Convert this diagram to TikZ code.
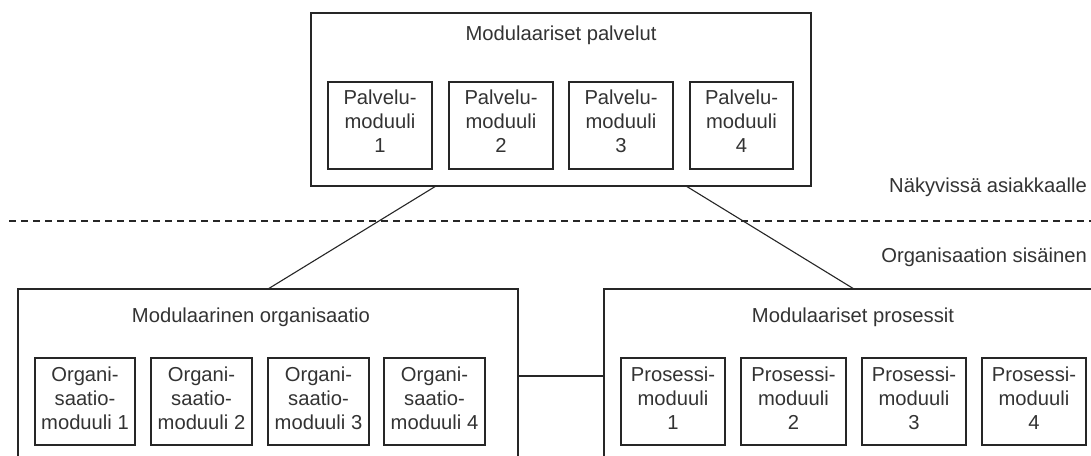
\documentclass[tikz,border=0pt]{standalone}
\usepackage{fontspec}
\setmainfont{Liberation Sans}
\usetikzlibrary{calc}
\begin{document}
\begin{tikzpicture}[x=1pt,y=-1pt,
  frame/.style={draw=black!85, line width=1.2pt, inner sep=0pt, outer sep=0pt, anchor=north west},
  container/.style={frame, minimum width=500pt, minimum height=174pt},
  modbox/.style={frame, minimum height=87pt},
  txt/.style={text=black!80, font=\fontsize{20.2}{24}\selectfont, inner sep=0pt, align=center},
  link/.style={draw=black!85, line width=1.1pt}]
\clip (0,0) rectangle (1091,455);
\fill[white] (0,0) rectangle (1091,455);

% containers
\node[container, minimum height=173pt] (top) at (311,13) {};
\node[container] (org) at (18,289) {};
\node[container] (proc) at (604,289) {};

% titles
\node[txt, anchor=base] (toptitle) at (561,40) {Modulaariset palvelut};
\node[txt, anchor=base] (orgtitle) at (251,322) {Modulaarinen organisaatio};
\node[txt, anchor=base] (proctitle) at (853,322) {Modulaariset prosessit};

% service modules
\node[modbox, minimum width=104pt] (pal1) at (328,82) {};
\node[modbox, minimum width=104pt] (pal2) at (449,82) {};
\node[modbox, minimum width=104pt] (pal3) at (569,82) {};
\node[modbox, minimum width=103pt] (pal4) at (690,82) {};
\node[txt, yshift=4pt] (pal1t) at (pal1) {Palvelu-\\moduuli\\1};
\node[txt, yshift=4pt] (pal2t) at (pal2) {Palvelu-\\moduuli\\2};
\node[txt, yshift=4pt] (pal3t) at (pal3) {Palvelu-\\moduuli\\3};
\node[txt, yshift=4pt] (pal4t) at (pal4) {Palvelu-\\moduuli\\4};

% organisation modules
\node[modbox, minimum width=100pt] (org1) at (35,358) {};
\node[modbox, minimum width=101pt] (org2) at (151,358) {};
\node[modbox, minimum width=101pt] (org3) at (268,358) {};
\node[modbox, minimum width=101pt] (org4) at (384,358) {};
\node[txt, yshift=3.5pt] (org1t) at (org1) {Organi-\\saatio-\\moduuli 1};
\node[txt, yshift=3.5pt] (org2t) at (org2) {Organi-\\saatio-\\moduuli 2};
\node[txt, yshift=3.5pt] (org3t) at (org3) {Organi-\\saatio-\\moduuli 3};
\node[txt, yshift=3.5pt] (org4t) at (org4) {Organi-\\saatio-\\moduuli 4};

% process modules
\node[modbox, minimum width=104pt] (pro1) at (621,358) {};
\node[modbox, minimum width=105pt] (pro2) at (741,358) {};
\node[modbox, minimum width=104pt] (pro3) at (862,358) {};
\node[modbox, minimum width=104pt] (pro4) at (982,358) {};
\node[txt, yshift=3.5pt] (pro1t) at (pro1) {Prosessi-\\moduuli\\1};
\node[txt, yshift=3.5pt] (pro2t) at (pro2) {Prosessi-\\moduuli\\2};
\node[txt, yshift=3.5pt] (pro3t) at (pro3) {Prosessi-\\moduuli\\3};
\node[txt, yshift=3.5pt] (pro4t) at (pro4) {Prosessi-\\moduuli\\4};

% visibility boundary
\coordinate (dl) at (9,221);
\coordinate (dr) at (1091,221);
\draw[link, line width=1.2pt, dash pattern=on 7pt off 5pt] (dl) -- (dr);
\node[txt, anchor=base east] (vis) at (1087,192) {Näkyvissä asiakkaalle};
\node[txt, anchor=base east] (int) at (1087,262) {Organisaation sisäinen};

% connectors
\draw[link] ($(top.south west)!0.25!(top.south east)$) -- (org.north);
\draw[link] ($(top.south west)!0.75!(top.south east)$) -- (proc.north);
\draw[link] (org.east) -- (proc.west);
\end{tikzpicture}
\end{document}
